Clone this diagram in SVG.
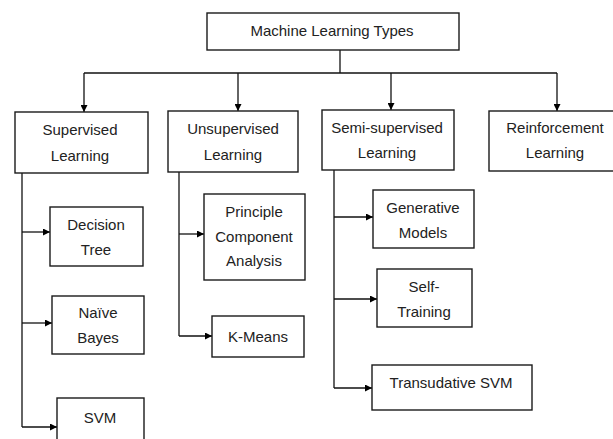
<svg xmlns="http://www.w3.org/2000/svg" width="613" height="439" viewBox="0 0 613 439">
<style>
.box{fill:#fff;stroke:#1a1a1a;stroke-width:1.4}
.t{font-family:"Liberation Sans",Arial,sans-serif;font-size:15px;fill:#222;text-anchor:middle}
.c{fill:none;stroke:#111;stroke-width:1.3}
</style>
<defs>
<marker id="ah" viewBox="0 0 10 10" refX="10" refY="5" markerWidth="9" markerHeight="7" markerUnits="userSpaceOnUse" orient="auto">
<path d="M0,0 L10,5 L0,10 Z" fill="#000"/>
</marker>
</defs>
<rect width="613" height="439" fill="#fff"/>
<g id="connectors">
<path class="c" d="M340,50 V73"/>
<path class="c" d="M84,73 H557"/>
<path class="c" d="M84,73 V112" marker-end="url(#ah)"/>
<path class="c" d="M238,73 V111" marker-end="url(#ah)"/>
<path class="c" d="M391,73 V110" marker-end="url(#ah)"/>
<path class="c" d="M557,73 V111" marker-end="url(#ah)"/>
<path class="c" d="M22,173 V427"/>
<path class="c" d="M22,232 H50" marker-end="url(#ah)"/>
<path class="c" d="M22,323 H52" marker-end="url(#ah)"/>
<path class="c" d="M22,427 H57" marker-end="url(#ah)"/>
<path class="c" d="M179,172 V336"/>
<path class="c" d="M179,234 H204" marker-end="url(#ah)"/>
<path class="c" d="M179,336 H212" marker-end="url(#ah)"/>
<path class="c" d="M334,170 V388"/>
<path class="c" d="M334,217 H373" marker-end="url(#ah)"/>
<path class="c" d="M334,299 H377" marker-end="url(#ah)"/>
<path class="c" d="M334,388 H372" marker-end="url(#ah)"/>
</g>
<g id="root"><rect class="box" x="207" y="13" width="252" height="37"/><text class="t" x="332" y="36">Machine Learning Types</text></g>
<g id="supervised"><rect class="box" x="15" y="112" width="133" height="61"/><text class="t" x="80" y="135">Supervised</text><text class="t" x="80" y="161">Learning</text></g>
<g id="unsupervised"><rect class="box" x="168" y="111" width="130" height="61"/><text class="t" x="233" y="134">Unsupervised</text><text class="t" x="233" y="160">Learning</text></g>
<g id="semi"><rect class="box" x="322" y="110" width="132" height="60"/><text class="t" x="387" y="133">Semi-supervised</text><text class="t" x="387" y="158">Learning</text></g>
<g id="reinforcement"><rect class="box" x="489" y="111" width="130" height="60"/><text class="t" x="555" y="133">Reinforcement</text><text class="t" x="555" y="158">Learning</text></g>
<g id="decision-tree"><rect class="box" x="50" y="207" width="93" height="59"/><text class="t" x="96" y="230">Decision</text><text class="t" x="96" y="255">Tree</text></g>
<g id="naive-bayes"><rect class="box" x="52" y="296" width="92" height="58"/><text class="t" x="98" y="318">Naïve</text><text class="t" x="98" y="343">Bayes</text></g>
<g id="svm"><rect class="box" x="57" y="398" width="87" height="50"/><text class="t" x="100" y="423">SVM</text></g>
<g id="pca"><rect class="box" x="204" y="194" width="101" height="86"/><text class="t" x="254" y="217">Principle</text><text class="t" x="254" y="242">Component</text><text class="t" x="254" y="266">Analysis</text></g>
<g id="kmeans"><rect class="box" x="212" y="316" width="92" height="41"/><text class="t" x="258" y="342">K-Means</text></g>
<g id="generative"><rect class="box" x="373" y="190" width="101" height="58"/><text class="t" x="423" y="213">Generative</text><text class="t" x="423" y="238">Models</text></g>
<g id="self-training"><rect class="box" x="377" y="269" width="95" height="58"/><text class="t" x="424" y="292">Self-</text><text class="t" x="424" y="317">Training</text></g>
<g id="transudative"><rect class="box" x="372" y="365" width="160" height="45"/><text class="t" x="451" y="388">Transudative SVM</text></g>
</svg>
